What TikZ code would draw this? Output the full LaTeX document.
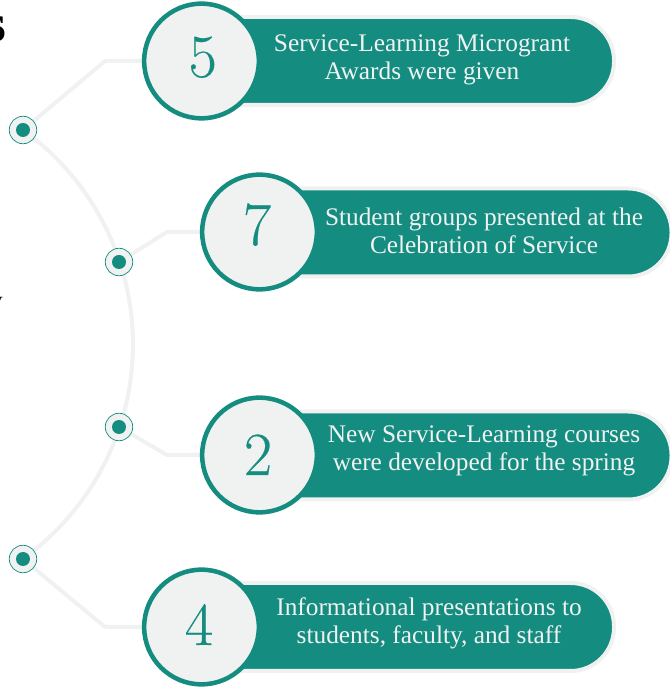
\documentclass[tikz,border=0pt]{standalone}
\usepackage{fontspec}
\setmainfont{Liberation Serif}
\newfontfamily\numfont[FakeBold=0.35]{Latin Modern Roman}
\usetikzlibrary{backgrounds}
\definecolor{tealc}{HTML}{158C80}
\definecolor{lightc}{HTML}{F0F2F2}
\newcommand{\digitat}[3]{\raisebox{#2}[0pt][0pt]{\makebox[0pt]{\hspace*{#1}#3}}}
\tikzset{
  x=0.75pt,y=0.75pt,
  pill/.style={rectangle,rounded corners=32.5pt,fill=tealc,draw=lightc,line width=3pt,minimum height=66pt,inner sep=0pt,outer sep=0pt},
  badge/.style={circle,fill=lightc,draw=tealc,line width=3.4pt,minimum size=86pt,inner sep=0pt,outer sep=0pt,text=tealc,font=\numfont\fontsize{46}{46}\selectfont},
  dotring/.style={circle,fill=lightc,draw=tealc,line width=0.55pt,minimum size=20.6pt,inner sep=0pt,outer sep=0pt},
  dotcore/.style={circle,fill=tealc,minimum size=10.5pt,inner sep=0pt,outer sep=0pt},
  caption/.style={text=lightc,align=center,font=\fontsize{19}{21}\selectfont},
  link/.style={draw=lightc,line width=3pt,line join=miter}
}
\begin{document}
\begin{tikzpicture}
\useasboundingbox (0,0) rectangle (670,688);
% clipped remnants of outside text
\node[anchor=base east,inner sep=0pt,font=\bfseries\fontsize{40}{40}\selectfont] (frag1) at (7,646) {s};
\node[anchor=base east,inner sep=0pt,font=\fontsize{20}{20}\selectfont] (frag2) at (3,378) {y};
% pills
\node[pill,minimum width=319.5pt] (p1) at (401,627) {};
\node[pill,minimum width=319.5pt] (p2) at (458.5,455.5) {};
\node[pill,minimum width=319.5pt] (p3) at (458.5,232.5) {};
\node[pill,minimum width=319.5pt] (p4) at (401,61) {};
% badges
\node[badge] (b1) at (201.5,627) {\digitat{1.8pt}{-12pt}{5}};
\node[badge] (b2) at (259.5,456) {\digitat{-3.7pt}{-9.75pt}{7}};
\node[badge] (b3) at (259.5,233) {\digitat{-2.2pt}{-15pt}{2}};
\node[badge] (b4) at (201.5,61) {\digitat{-3.7pt}{-13.5pt}{4}};
% captions
\node[caption] (t1) at (422,628) {Service-Learning Microgrant\\Awards were given};
\node[caption] (t2) at (484,457) {Student groups presented at the\\Celebration of Service};
\node[caption] (t3) at (484,237) {New Service-Learning courses\\were developed for the spring};
\node[caption] (t4) at (429,65) {Informational presentations to\\students, faculty, and staff};
% dots
\node[dotring] (d1) at (23,558) {};
\node[dotcore] (c1) at (d1) {};
\node[dotring] (d2) at (119,426) {};
\node[dotcore] (c2) at (d2) {};
\node[dotring] (d3) at (119,261) {};
\node[dotcore] (c3) at (d3) {};
\node[dotring] (d4) at (23,129) {};
\node[dotcore] (c4) at (d4) {};
% elbows
\coordinate (e1) at (105,627);
\coordinate (e2) at (167,456);
\coordinate (e3) at (167,233);
\coordinate (e4) at (105,61);
\begin{scope}[on background layer]
\draw[link] (d1) -- (e1) -- (b1);
\draw[link] (d2) -- (e2) -- (b2);
\draw[link] (d3) -- (e3) -- (b3);
\draw[link] (d4) -- (e4) -- (b4);
\draw[link] (d1.center) arc[start angle=54.3,end angle=-54.3,radius=198pt];
\end{scope}
\end{tikzpicture}
\end{document}
